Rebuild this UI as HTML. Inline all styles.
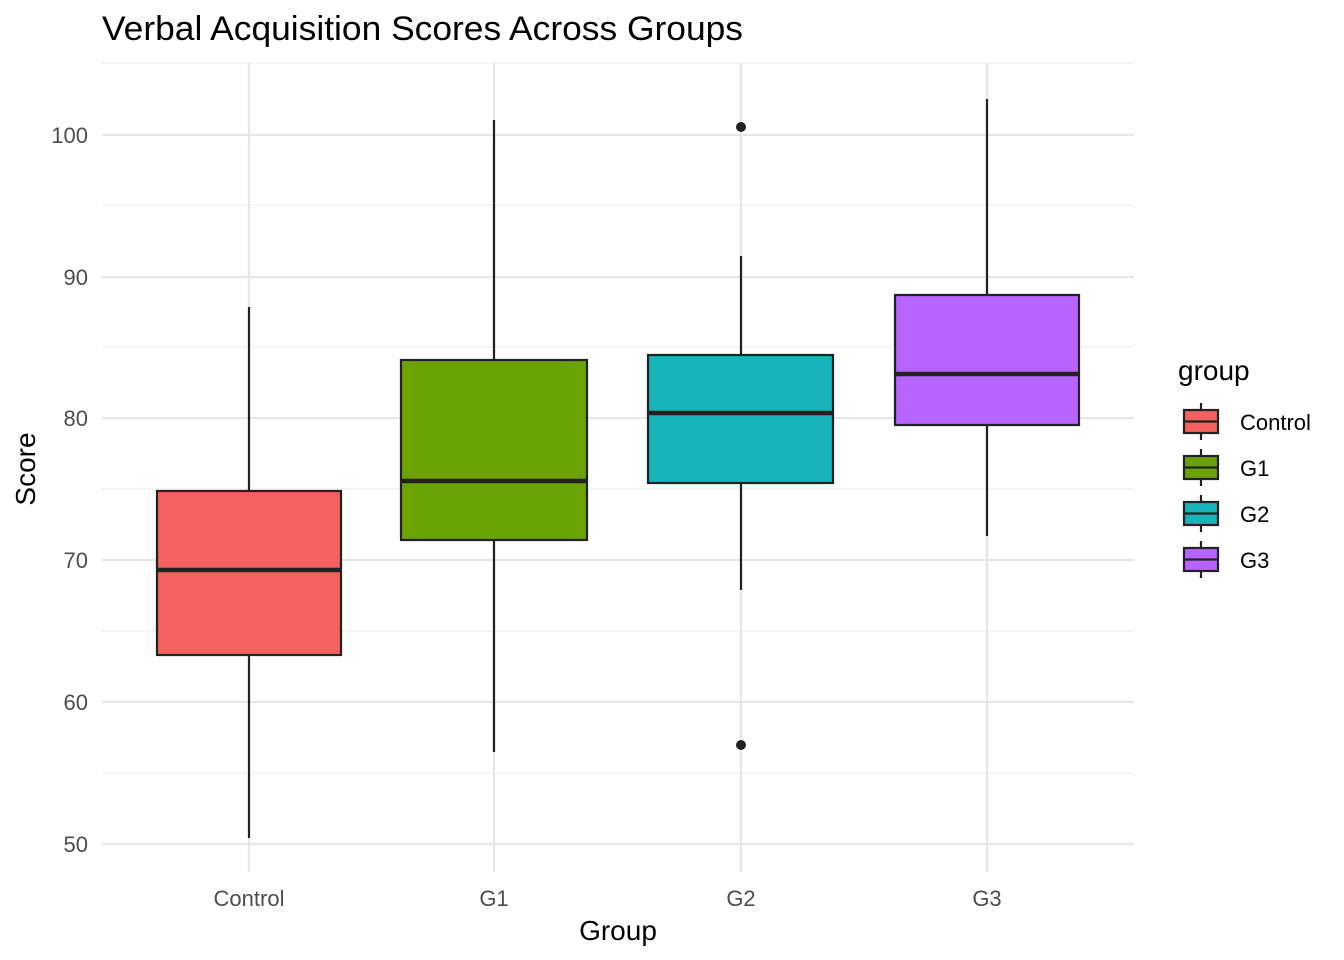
<!DOCTYPE html>
<html><head><style>body{margin:0;background:#fff}svg{display:block}</style></head><body>
<svg width="1344" height="960" xmlns="http://www.w3.org/2000/svg" font-family="Liberation Sans, Arial, sans-serif">
<rect width="1344" height="960" fill="#fff"/>
<g stroke="#ebebeb" stroke-width="1.1">
<line x1="102" x2="1134" y1="63" y2="63"/><line x1="102" x2="1134" y1="205" y2="205"/><line x1="102" x2="1134" y1="347" y2="347"/><line x1="102" x2="1134" y1="489" y2="489"/><line x1="102" x2="1134" y1="631" y2="631"/><line x1="102" x2="1134" y1="773" y2="773"/>
</g>
<g stroke="#e6e6e6" stroke-width="2.2">
<line x1="102" x2="1134" y1="135" y2="135"/><line x1="102" x2="1134" y1="277" y2="277"/><line x1="102" x2="1134" y1="418" y2="418"/><line x1="102" x2="1134" y1="560" y2="560"/><line x1="102" x2="1134" y1="702" y2="702"/><line x1="102" x2="1134" y1="844" y2="844"/>
<line x1="249" x2="249" y1="63" y2="872"/><line x1="494" x2="494" y1="63" y2="872"/><line x1="741" x2="741" y1="63" y2="872"/><line x1="987" x2="987" y1="63" y2="872"/>
</g>
<g stroke="#222" stroke-width="2.2">
<line x1="249" x2="249" y1="307" y2="838"/>
<rect x="157" y="491" width="184" height="164" fill="#F4615E"/>
<line x1="157" x2="341" y1="570" y2="570" stroke-width="4.5"/>
<line x1="494" x2="494" y1="120" y2="752"/>
<rect x="401" y="360" width="186" height="180" fill="#6BA304"/>
<line x1="401" x2="587" y1="481" y2="481" stroke-width="4.5"/>
<line x1="741" x2="741" y1="256" y2="590"/>
<rect x="648" y="355" width="185" height="128" fill="#18B3B8"/>
<line x1="648" x2="833" y1="413" y2="413" stroke-width="4.5"/>
<line x1="987" x2="987" y1="99" y2="536"/>
<rect x="895" y="295" width="184" height="130" fill="#B763FF"/>
<line x1="895" x2="1079" y1="374" y2="374" stroke-width="4.5"/>
</g>
<circle cx="741" cy="127" r="5" fill="#222"/><circle cx="741" cy="745" r="5" fill="#222"/>
<g font-size="22" fill="#4d4d4d" text-anchor="end">
<text x="88" y="143">100</text><text x="88" y="285">90</text><text x="88" y="426">80</text><text x="88" y="568">70</text><text x="88" y="710">60</text><text x="88" y="852">50</text>
</g>
<g font-size="22" fill="#4d4d4d" text-anchor="middle">
<text x="249" y="906">Control</text><text x="494" y="906">G1</text><text x="741" y="906">G2</text><text x="987" y="906">G3</text>
</g>
<text x="618" y="940" font-size="28" text-anchor="middle" fill="#000">Group</text>
<text transform="translate(35,469) rotate(-90)" font-size="28" text-anchor="middle" fill="#000">Score</text>
<text x="102" y="40" font-size="34" fill="#000" textLength="641" lengthAdjust="spacingAndGlyphs">Verbal Acquisition Scores Across Groups</text>
<text x="1178" y="380" font-size="28" fill="#000">group</text>
<g stroke="#222" stroke-width="2.2">
<line x1="1201" x2="1201" y1="403" y2="440"/><rect x="1184" y="410" width="34" height="23" fill="#F4615E"/><line x1="1184" x2="1218" y1="421.5" y2="421.5"/>
<line x1="1201" x2="1201" y1="449" y2="486"/><rect x="1184" y="456" width="34" height="23" fill="#6BA304"/><line x1="1184" x2="1218" y1="467.5" y2="467.5"/>
<line x1="1201" x2="1201" y1="495" y2="532"/><rect x="1184" y="502" width="34" height="23" fill="#18B3B8"/><line x1="1184" x2="1218" y1="513.5" y2="513.5"/>
<line x1="1201" x2="1201" y1="541" y2="578"/><rect x="1184" y="548" width="34" height="23" fill="#B763FF"/><line x1="1184" x2="1218" y1="559.5" y2="559.5"/>
</g>
<g font-size="22" fill="#000">
<text x="1240" y="430">Control</text><text x="1240" y="476">G1</text><text x="1240" y="522">G2</text><text x="1240" y="568">G3</text>
</g>
</svg>
</body></html>
